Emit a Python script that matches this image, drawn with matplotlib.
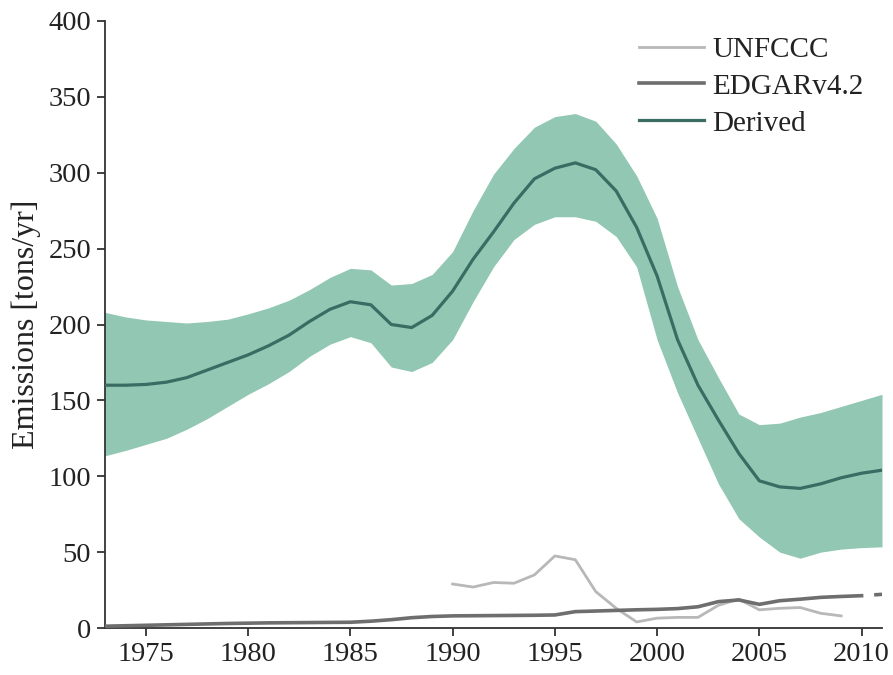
import matplotlib
matplotlib.use("Agg")
import matplotlib.pyplot as plt
import numpy as np

# Derived emissions with uncertainty band (tons/yr)
years = list(range(1973, 2012))
derived = [160, 160, 160.5, 162, 165, 170, 175, 180, 186, 193,
           202, 210, 215, 213, 200, 198, 206, 222, 243, 261,
           280, 296, 303, 306.5, 302, 288, 264, 232, 190, 160,
           137, 115, 97, 93, 92, 95, 99, 102, 104]
derived_hi = [208, 205, 203, 202, 201, 202, 203.5, 207, 211, 216,
              223, 231, 237, 236, 226, 227, 233, 248, 275, 299,
              316, 330, 337, 339, 334, 319, 298, 270, 225, 190,
              165, 141, 134, 135, 139, 142, 146, 150, 154]
derived_lo = [113.5, 117, 121, 125, 131, 138, 146, 154, 161, 169,
              179, 187, 192, 188, 172, 169, 175, 190, 215, 238,
              256, 266, 271, 271, 268, 258, 238, 190, 155, 125,
              95, 72, 60, 50, 46, 50, 52, 53, 53.5]

# UNFCCC reported emissions
unfccc_years = list(range(1990, 2010))
unfccc = [29, 27, 30, 29.5, 35, 47.5, 45, 24, 13, 4,
          6.5, 7, 7, 15, 19, 12, 13, 13.5, 9.7, 8]

# EDGARv4.2 inventory
edgar_years = list(range(1973, 2011))
edgar = [1.2, 1.5, 1.8, 2.1, 2.4, 2.7, 3.0, 3.2, 3.4, 3.5,
         3.6, 3.7, 3.8, 4.5, 5.5, 6.8, 7.6, 8.0, 8.1, 8.2,
         8.3, 8.4, 8.6, 10.8, 11.2, 11.6, 12.0, 12.3, 12.8, 14.0,
         17.4, 18.5, 15.6, 18.0, 19.0, 20.2, 20.8, 21.3]
edgar_ext_years = [2010, 2011]
edgar_ext = [21.3, 22.2]

xticks = [1975, 1980, 1985, 1990, 1995, 2000, 2005, 2010]
yticks = [0, 50, 100, 150, 200, 250, 300, 350, 400]

plt.rcParams['font.family'] = ['Liberation Serif', 'DejaVu Serif']

fig = plt.figure(figsize=(8.93, 6.75), dpi=100)
ax = fig.add_axes([0.1176, 0.0696, 0.9877 - 0.1176, 0.9689 - 0.0696])

fill_col = '#91c7b3'
line_col = '#3b6c64'
ax.fill_between(years, derived_lo, derived_hi, color=fill_col, lw=0, zorder=1)
ax.plot(unfccc_years, unfccc, color='#b8b8b8', lw=2.0, label='UNFCCC', zorder=3)
ax.plot(edgar_years, edgar, color='#6e6e6e', lw=2.6, label='EDGARv4.2', zorder=3)
ax.plot(edgar_ext_years, edgar_ext, color='#6e6e6e', lw=2.6,
        linestyle=(4.5, (4.5, 3.5)), zorder=3)
ax.plot(years, derived, color=line_col, lw=2.3, label='Derived', zorder=4)

ax.set_xlim(1973, 2011)
ax.set_ylim(0, 400)
ax.set_xticks(xticks)
ax.set_yticks(yticks)
for s in ['top', 'right']:
    ax.spines[s].set_visible(False)
for s in ['left', 'bottom']:
    ax.spines[s].set_color('#333333')
    ax.spines[s].set_linewidth(1.3)
ax.tick_params(direction='out', length=6, width=1.3, color='#333333',
               labelsize=20.5, labelcolor='#222222', pad=4)
ax.set_ylabel('Emissions [tons/yr]', fontsize=23, color='#222222', labelpad=5)

leg = ax.legend(loc='upper right', bbox_to_anchor=(1.01, 1.018), frameon=False,
                fontsize=21, handlelength=2.2, handletextpad=0.3,
                labelspacing=0.36)
for t in leg.get_texts():
    t.set_color('#222222')

fig.savefig('out.png', dpi=100)
